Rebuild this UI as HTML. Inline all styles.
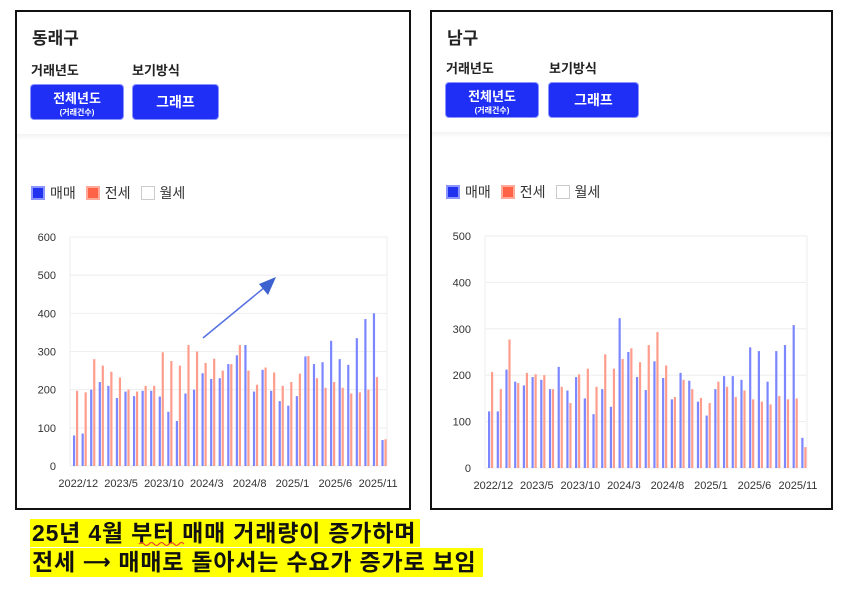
<!DOCTYPE html>
<html><head><meta charset="utf-8"><style>
body{margin:0;width:847px;height:591px;background:#fff;position:relative;overflow:hidden;font-family:"Liberation Sans","Noto Sans CJK KR",sans-serif}
.panel{position:absolute;top:10px;height:500px;border:2px solid #111;box-sizing:border-box;background:#fff}
.t{position:absolute;font-weight:bold;color:#222}
.btn{position:absolute;background:#1f2ff5;color:#fff;border-radius:3px;font-weight:bold;text-align:center;box-shadow:0 0 0 1px #8a95ff}
.band{position:absolute;left:0;right:0;top:122px;height:6px;background:linear-gradient(#f3f3f3,#fff)}
.leg{position:absolute;font-size:14px;color:#333;display:flex;align-items:center}
.sw{width:14px;height:14px;display:inline-block;margin-right:5px;box-sizing:border-box}
.note{position:absolute;left:30px;font-size:23px;font-weight:bold;background:#ffff00;color:#111;line-height:28px;padding:0 2px;white-space:nowrap;letter-spacing:0.8px}
svg{position:absolute;left:0;top:0}
</style></head><body>
<div class="panel" style="left:15px;width:396px">
 <div class="t" style="left:15px;top:12px;font-size:17px">동래구</div>
 <div class="t" style="left:14px;top:48px;font-size:13px">거래년도</div>
 <div class="t" style="left:115px;top:48px;font-size:13px">보기방식</div>
 <div class="btn" style="left:14px;top:73px;width:92px;height:34px"><div style="font-size:13px;margin-top:3px">전체년도</div><div style="font-size:8px">(거래건수)</div></div>
 <div class="btn" style="left:116px;top:73px;width:85px;height:34px;line-height:34px;font-size:14px">그래프</div>
 <div class="band"></div>
 <div class="leg" style="left:14px;top:171px"><span class="sw" style="background:#2233f0;border:2px solid #8a95ff"></span>매매<span class="sw" style="background:#ff6347;border:2px solid #ffaa99;margin-left:10px"></span>전세<span class="sw" style="border:1px solid #ccc;margin-left:10px"></span>월세</div>
</div>
<div class="panel" style="left:430px;width:403px">
 <div class="t" style="left:15px;top:12px;font-size:17px">남구</div>
 <div class="t" style="left:14px;top:46px;font-size:13px">거래년도</div>
 <div class="t" style="left:117px;top:46px;font-size:13px">보기방식</div>
 <div class="btn" style="left:14px;top:71px;width:92px;height:34px"><div style="font-size:13px;margin-top:3px">전체년도</div><div style="font-size:8px">(거래건수)</div></div>
 <div class="btn" style="left:117px;top:71px;width:89px;height:34px;line-height:34px;font-size:14px">그래프</div>
 <div class="band" style="top:120px"></div>
 <div class="leg" style="left:14px;top:170px"><span class="sw" style="background:#2233f0;border:2px solid #8a95ff"></span>매매<span class="sw" style="background:#ff6347;border:2px solid #ffaa99;margin-left:10px"></span>전세<span class="sw" style="border:1px solid #ccc;margin-left:10px"></span>월세</div>
</div>
<div class="note" style="top:519px;padding-right:4px">25년 4월 부터 매매 거래량이 증가하며</div>
<div class="note" style="top:548px;padding-right:6px">전세 <span style="font-size:19px;vertical-align:2px">⟶</span> 매매로 돌아서는 수요가 증가로 보임</div>
<svg id="s" width="847" height="591"></svg>
<script>
const s=document.getElementById('s');let h='';
const labels=['2022/12','2023/5','2023/10','2024/3','2024/8','2025/1','2025/6','2025/11'];
function chart(x0,x1,y0,yTop,max,step,blue,red){
 const n=blue.length,g=(x1-x0)/n,H=y0-yTop;
 for(let v=0;v<=max;v+=step){const y=y0-v/max*H;
  h+=`<line x1="${x0}" x2="${x1}" y1="${y}" y2="${y}" stroke="#eee"/>`;
  h+=`<text x="${x0-14}" y="${y+4}" font-size="11" fill="#333" text-anchor="end">${v}</text>`;}
 h+=`<line x1="${x0}" x2="${x0}" y1="${yTop}" y2="${y0}" stroke="#eee"/><line x1="${x1}" x2="${x1}" y1="${yTop}" y2="${y0}" stroke="#eee"/>`;
 for(let i=0;i<n;i++){const bx=x0+i*g+3;
  const hb=blue[i]/max*H,hr=red[i]/max*H;
  h+=`<rect x="${bx}" y="${y0-hb}" width="2.2" height="${hb}" fill="#7b86ff"/>`;
  h+=`<rect x="${bx+3}" y="${y0-hr}" width="2.2" height="${hr}" fill="#ff9d8c"/>`;}
 labels.forEach((l,k)=>{const cx=x0+(k*5)*g+g/2+4;
  h+=`<text x="${cx}" y="${y0+21}" font-size="11" fill="#333" text-anchor="middle">${l}</text>`;});
}
chart(70,387,466,237,600,100,
[80,85,200,220,210,178,195,183,197,197,182,142,118,190,200,243,228,230,267,290,317,195,252,197,170,158,183,287,267,272,328,280,265,335,385,400,68],
[197,193,280,263,247,232,200,195,210,210,298,275,263,317,300,270,281,250,267,317,250,213,258,245,210,220,242,288,230,205,220,205,190,193,200,233,70]);
chart(485,807,468,236,500,100,
[122,122,212,186,178,196,190,170,218,167,196,150,116,170,132,323,250,196,168,230,194,148,205,188,143,113,170,198,198,190,260,252,186,252,265,308,65],
[207,170,277,183,205,202,200,170,175,140,202,214,175,245,214,235,258,228,265,293,221,153,190,170,151,140,186,175,153,167,148,143,137,155,148,150,45]);
h+=`<line x1="203" y1="338" x2="265" y2="287" stroke="#5570e0" stroke-width="1.5"/><polygon points="276,277 259,284 268,295" fill="#3d62d0"/>`;
h+=`<path d="M139 544 q2.5 -3 5 0 t5 0 t5 0 t5 0 t5 0 t5 0 t5 0 t5 0 t5 0" stroke="#e33" fill="none" stroke-width="1"/>`;
s.innerHTML=h;
</script>
</body></html>
